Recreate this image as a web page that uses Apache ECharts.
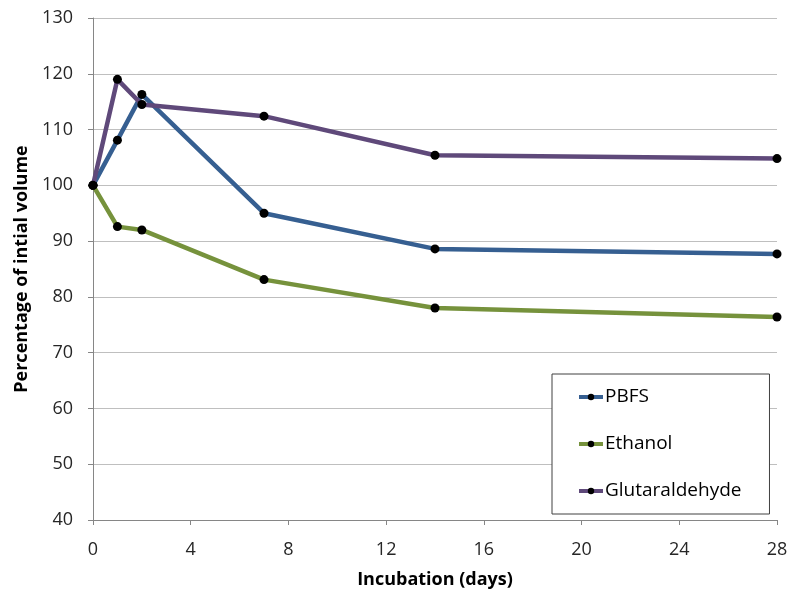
<!DOCTYPE html>
<html>
<head>
<meta charset="utf-8">
<script src="https://cdn.jsdelivr.net/npm/echarts@6/dist/echarts.min.js"></script>
<style>
  html, body { margin: 0; padding: 0; background: #ffffff; }
  #chart { width: 791px; height: 594px; }
</style>
</head>
<body>
<div id="chart"></div>
<script>
// Incubation time points (days)
const days = [0, 1, 2, 7, 14, 28];
// Percentage of initial volume per fixative
const pbfs = [100, 108.1, 116.3, 95.0, 88.6, 87.7];
const ethanol = [100, 92.6, 92.0, 83.1, 78.0, 76.4];
const glutaraldehyde = [100, 119.0, 114.5, 112.4, 105.4, 104.8];

const seriesNames = ['PBFS', 'Ethanol', 'Glutaraldehyde'];
const seriesColors = ['#365F91', '#76923C', '#5F497A'];
const seriesValues = [pbfs, ethanol, glutaraldehyde];

const FONT = 'Open Sans';

const chart = echarts.init(document.getElementById('chart'), null, { renderer: 'canvas' });

const series = seriesNames.map((name, i) => ({
  name: name,
  type: 'line',
  data: days.map((d, j) => [d, seriesValues[i][j]]),
  symbol: 'circle',
  symbolSize: 9,
  showSymbol: true,
  lineStyle: { color: seriesColors[i], width: 4.5 },
  itemStyle: { color: '#000000', borderWidth: 0 },
  emphasis: { disabled: true },
  z: 2 + i
}));

chart.setOption({
  animation: false,
  backgroundColor: '#ffffff',
  grid: { left: 93, right: 14, top: 18, bottom: 74, containLabel: false },
  legend: {
    orient: 'vertical',
    left: 552,
    top: 374,
    data: seriesNames.map((n, i) => ({
      name: n,
      itemStyle: { color: '#000000' },
      lineStyle: { color: seriesColors[i], width: 4 }
    })),
    itemWidth: 24,
    itemHeight: 8,
    itemGap: 25,
    padding: [12, 28, 12, 25],
    borderColor: '#404040',
    borderWidth: 1,
    backgroundColor: '#ffffff',
    textStyle: { fontFamily: FONT, fontSize: 19, lineHeight: 22, color: '#000000', padding: [0, 0, 0, -3] }
  },
  xAxis: {
    type: 'value',
    min: 0,
    max: 28,
    interval: 4,
    name: 'Incubation (days)',
    nameLocation: 'middle',
    nameGap: 51,
    nameTextStyle: { fontFamily: FONT, fontSize: 18, fontWeight: 'bold', color: '#000000' },
    axisLine: { show: true, lineStyle: { color: '#868686', width: 1 } },
    axisTick: { show: true, inside: false, length: 5, lineStyle: { color: '#868686' } },
    axisLabel: { fontFamily: FONT, fontSize: 18, color: '#262626', margin: 21 },
    splitLine: { show: false }
  },
  yAxis: {
    type: 'value',
    min: 40,
    max: 130,
    interval: 10,
    name: 'Percentage of intial volume',
    nameLocation: 'middle',
    nameGap: 56,
    nameTextStyle: { fontFamily: FONT, fontSize: 18, fontWeight: 'bold', color: '#000000' },
    axisLine: { show: true, lineStyle: { color: '#868686', width: 1 } },
    axisTick: { show: true, inside: false, length: 5, lineStyle: { color: '#868686' } },
    axisLabel: { fontFamily: FONT, fontSize: 18, color: '#262626', margin: 20 },
    splitLine: { show: true, lineStyle: { color: '#BFBFBF', width: 1 } }
  },
  series: series
});
</script>
</body>
</html>
